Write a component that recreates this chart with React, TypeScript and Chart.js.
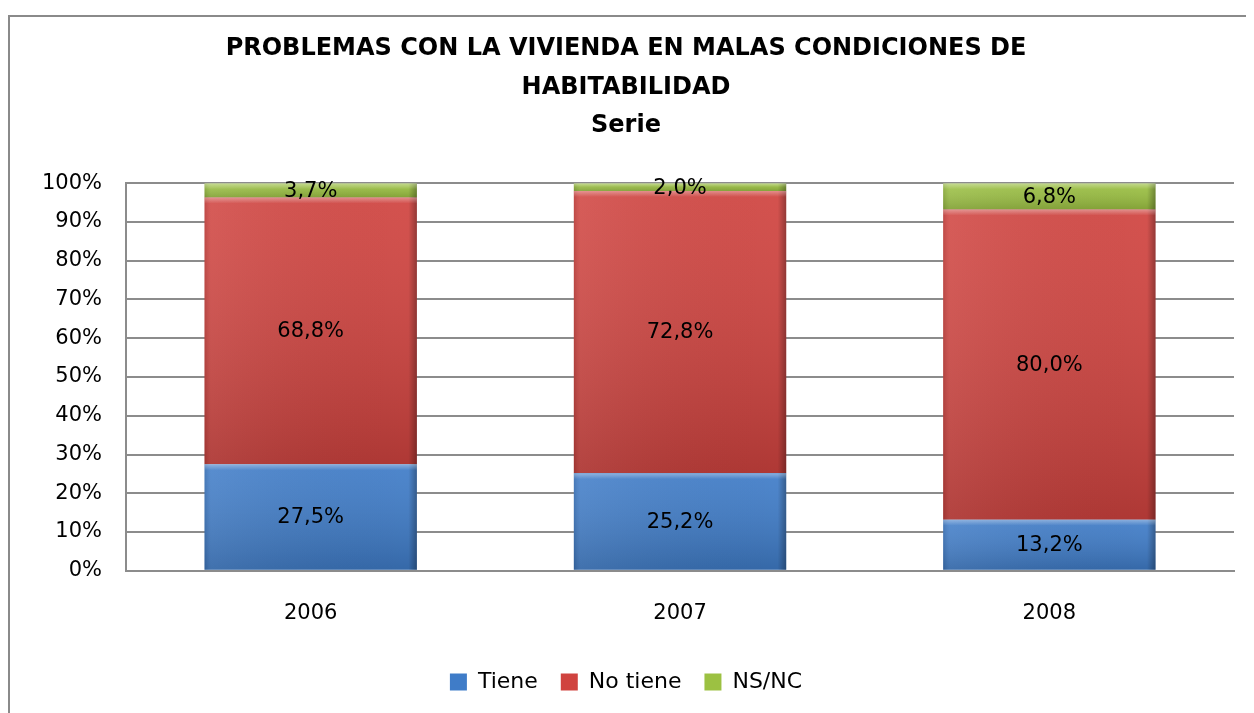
import React, { useEffect, useRef } from 'react';
import { Chart, registerables } from 'chart.js';

Chart.register(...registerables);

const years = ['2006', '2007', '2008'];
const tiene = [27.5, 25.2, 13.2];
const noTiene = [68.8, 72.8, 80.0];
const nsnc = [3.7, 2.0, 6.8];
const seriesNames = ['Tiene', 'No tiene', 'NS/NC'];
const seriesColors = ['#3f7cc8', '#d0433f', '#9cc142'];
const titleLines = ['PROBLEMAS CON LA VIVIENDA EN MALAS CONDICIONES DE', 'HABITABILIDAD', 'Serie'];
const yTicks = [0, 10, 20, 30, 40, 50, 60, 70, 80, 90, 100];

const FONT = '"DejaVu Sans", Verdana, sans-serif';

const bevelPlugin = {
  id: 'bevel',
  afterDatasetsDraw(chart: any) {
    const ctx = chart.ctx;
    chart.data.datasets.forEach((ds: any, di: number) => {
      const meta = chart.getDatasetMeta(di);
      meta.data.forEach((el: any) => {
        const left = el.x - el.width / 2;
        const top = Math.min(el.y, el.base);
        const h = Math.abs(el.base - el.y);
        const w = el.width;
        ctx.save();
        const gv = ctx.createLinearGradient(0, top, 0, top + h);
        gv.addColorStop(0, 'rgba(255,255,255,0.08)');
        gv.addColorStop(1, 'rgba(0,0,0,0.16)');
        ctx.fillStyle = gv;
        ctx.fillRect(left, top, w, h);
        const gh = ctx.createLinearGradient(left, 0, left + w, 0);
        gh.addColorStop(0, 'rgba(0,0,0,0.10)');
        gh.addColorStop(0.03, 'rgba(255,255,255,0.06)');
        gh.addColorStop(0.96, 'rgba(0,0,0,0.0)');
        gh.addColorStop(1, 'rgba(0,0,0,0.30)');
        ctx.fillStyle = gh;
        ctx.fillRect(left, top, w, h);
        const ht = Math.min(6, h / 2);
        const gt = ctx.createLinearGradient(0, top, 0, top + ht);
        gt.addColorStop(0, 'rgba(255,255,255,0.35)');
        gt.addColorStop(1, 'rgba(255,255,255,0)');
        ctx.fillStyle = gt;
        ctx.fillRect(left, top, w, ht);
        ctx.restore();
      });
    });
  },
};

const labelPlugin = {
  id: 'segLabels',
  afterDatasetsDraw(chart: any) {
    const ctx = chart.ctx;
    ctx.save();
    ctx.font = `21px ${FONT}`;
    ctx.fillStyle = '#000';
    ctx.textAlign = 'center';
    ctx.textBaseline = 'middle';
    chart.data.datasets.forEach((ds: any, di: number) => {
      const meta = chart.getDatasetMeta(di);
      meta.data.forEach((el: any, i: number) => {
        const v = ds.data[i] as number;
        const txt = v.toFixed(1).replace('.', ',') + '%';
        const cy = (el.y + el.base) / 2;
        ctx.fillText(txt, el.x, cy + 1);
      });
    });
    ctx.restore();
  },
};

export default function App() {
  const ref = useRef<HTMLCanvasElement>(null);
  useEffect(() => {
    if (!ref.current) return;
    const chart = new Chart(ref.current, {
      type: 'bar',
      data: {
        labels: years,
        datasets: [tiene, noTiene, nsnc].map((d, i) => ({
          label: seriesNames[i],
          data: d,
          backgroundColor: seriesColors[i],
          borderWidth: 0,
          categoryPercentage: 1,
          barPercentage: 0.575,
        })),
      },
      options: {
        animation: false,
        responsive: false,
        maintainAspectRatio: false,
        layout: { padding: { left: 8, right: 20, top: 0, bottom: 10 } },
        plugins: {
          title: {
            display: true,
            text: titleLines,
            font: { family: FONT, size: 24, weight: 'bold', lineHeight: 1.6 },
            color: '#000',
            padding: { top: 13, bottom: 38 },
          },
          legend: {
            position: 'bottom',
            labels: {
              font: { family: FONT, size: 22 },
              color: '#000',
              boxWidth: 17,
              boxHeight: 17,
              padding: 23,
            },
          },
          tooltip: { enabled: false },
        },
        scales: {
          x: {
            stacked: true,
            grid: { display: false },
            border: { color: '#8c8c8c', width: 2 },
            ticks: { font: { family: FONT, size: 21 }, color: '#000', padding: 22 },
          },
          y: {
            stacked: true,
            min: 0,
            max: 100,
            afterBuildTicks: (axis: any) => {
              axis.ticks = yTicks.map((v) => ({ value: v }));
            },
            grid: { color: '#8c8c8c', lineWidth: 2, drawTicks: false },
            border: { color: '#8c8c8c', width: 2 },
            ticks: {
              font: { family: FONT, size: 21 },
              color: '#000',
              padding: 24,
              callback: (v: any) => `${v}%`,
            },
          },
        },
      },
      plugins: [bevelPlugin, labelPlugin],
    });
    return () => chart.destroy();
  }, []);

  return (
    <div
      style={{
        marginTop: 7,
        width: 1246,
        height: 698,
        borderTop: '2px solid #8a8a8a',
        borderLeft: '2px solid #8a8a8a',
        boxSizing: 'border-box',
        overflow: 'hidden',
      }}
    >
      <canvas ref={ref} width={1244} height={696} style={{ display: 'block' }} />
    </div>
  );
}
